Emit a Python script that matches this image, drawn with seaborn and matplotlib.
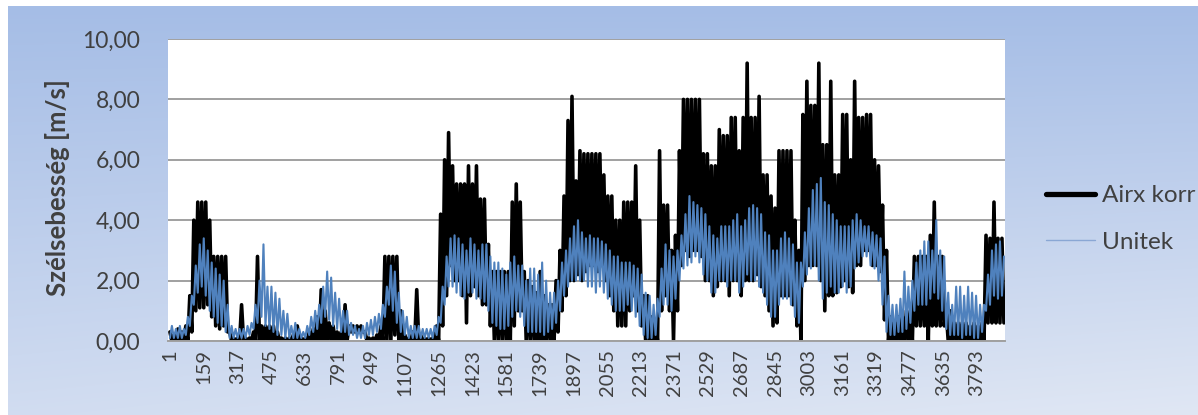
import numpy as np
import pandas as pd
import matplotlib
matplotlib.use("Agg")
import matplotlib.pyplot as plt
import seaborn as sns
from matplotlib.lines import Line2D

# ---- data: local highs and lows of each series ----
airx_high = [
    0.3, 0.2, 0.4, 0.3, 0.5, 1.5, 4.0, 4.6, 4.6, 4.6,
    4.0, 2.8, 2.8, 2.8, 2.8, 0.3, 0.1, 0.1, 1.2, 0.1,
    0.1, 0.3, 2.8, 0.5, 0.5, 0.5, 0.5, 0.3, 0.1, 0.1,
    0.1, 0.2, 0.5, 0.1, 0.1, 0.3, 0.4, 0.8, 1.7, 1.0,
    0.6, 0.5, 0.3, 0.3, 1.2, 0.5, 0.5, 0.5, 0.5, 0.3,
    0.1, 0.1, 0.2, 0.5, 2.8, 2.8, 2.8, 2.8, 1.0, 0.2,
    0.1, 0.3, 1.7, 0.2, 0.1, 0.1, 0.1, 0.5, 4.2, 6.0,
    6.9, 5.8, 5.2, 5.2, 5.2, 5.8, 5.2, 5.8, 4.7, 4.7,
    3.2, 2.3, 2.3, 2.3, 2.3, 2.3, 4.6, 5.2, 4.6, 2.3,
    2.0, 1.8, 1.6, 2.3, 1.5, 1.2, 1.2, 2.0, 3.0, 4.8,
    7.3, 8.1, 5.3, 6.3, 6.2, 6.2, 6.2, 6.2, 6.2, 5.5,
    4.8, 4.8, 4.0, 4.0, 4.6, 4.6, 4.6, 5.8, 4.0, 1.5,
    1.5, 0.8, 0.5, 6.3, 4.5, 4.5, 3.0, 3.5, 6.3, 8.0,
    8.0, 8.0, 8.0, 8.0, 6.2, 6.2, 5.8, 5.8, 7.0, 6.8,
    6.8, 7.4, 7.4, 6.3, 7.4, 9.2, 7.4, 7.4, 8.1, 5.5,
    5.5, 4.8, 4.4, 6.3, 6.3, 6.3, 6.3, 4.0, 3.0, 7.5,
    8.6, 7.8, 7.8, 9.2, 6.5, 6.5, 8.6, 5.5, 5.5, 7.5,
    7.5, 6.0, 8.6, 7.4, 7.4, 7.5, 7.5, 6.0, 5.8, 4.5,
    3.0, 0.8, 0.6, 0.8, 0.8, 1.0, 1.0, 2.8, 2.8, 2.8,
    2.8, 3.5, 4.6, 2.8, 2.8, 1.0, 1.0, 0.6, 0.6, 0.6,
    0.6, 0.5, 0.6, 0.5, 0.6, 3.5, 3.4, 4.6, 3.4, 3.4,
]
airx_low = [
    0.0, 0.0, 0.0, 0.0, 0.0, 0.3, 1.0, 1.1, 1.1, 1.2,
    0.8, 0.5, 0.4, 0.5, 0.3, 0.0, 0.0, 0.0, 0.0, 0.0,
    0.0, 0.0, 0.0, 0.0, 0.0, 0.0, 0.0, 0.0, 0.0, 0.0,
    0.0, 0.0, 0.0, 0.0, 0.0, 0.0, 0.0, 0.0, 0.0, 0.0,
    0.0, 0.0, 0.0, 0.0, 0.0, 0.3, 0.3, 0.3, 0.3, 0.0,
    0.0, 0.0, 0.0, 0.0, 0.0, 0.0, 0.2, 0.0, 0.0, 0.0,
    0.0, 0.0, 0.0, 0.0, 0.0, 0.0, 0.0, 0.0, 0.5, 1.5,
    2.5, 2.0, 2.0, 1.5, 0.6, 1.5, 1.8, 1.5, 1.2, 1.2,
    0.5, 0.0, 0.0, 0.0, 0.0, 0.0, 0.5, 1.0, 1.0, 0.0,
    0.0, 0.0, 0.0, 0.0, 0.0, 0.0, 0.0, 0.3, 1.0, 1.5,
    2.0, 2.0, 2.2, 2.0, 2.3, 2.5, 2.5, 2.3, 2.5, 2.0,
    1.5, 1.0, 0.5, 0.5, 0.5, 1.0, 1.5, 1.0, 0.5, 0.0,
    0.0, 0.0, 0.0, 1.0, 1.5, 1.0, 0.0, 1.0, 2.5, 3.0,
    2.8, 3.0, 3.0, 2.8, 2.0, 2.0, 1.5, 1.8, 2.0, 2.0,
    1.5, 2.0, 2.0, 1.5, 2.0, 2.0, 2.0, 2.2, 1.8, 1.5,
    1.0, 0.5, 0.6, 1.5, 1.5, 1.5, 1.2, 0.5, 0.0, 2.0,
    2.5, 2.5, 2.5, 2.0, 1.0, 1.5, 1.5, 1.6, 1.8, 2.0,
    1.8, 1.6, 2.5, 2.5, 3.0, 3.0, 2.5, 2.5, 2.3, 0.7,
    0.0, 0.0, 0.0, 0.0, 0.0, 0.0, 0.0, 0.5, 0.5, 0.5,
    0.0, 0.5, 0.5, 0.5, 0.5, 0.0, 0.0, 0.0, 0.0, 0.0,
    0.0, 0.0, 0.0, 0.0, 0.0, 0.6, 0.6, 0.6, 0.6, 0.6,
]
unitek_high = [
    0.5, 0.4, 0.5, 0.4, 0.8, 1.5, 2.5, 3.2, 3.4, 3.0,
    2.6, 2.4, 2.2, 2.0, 1.2, 0.5, 0.4, 0.4, 0.4, 0.5,
    0.6, 1.2, 2.0, 3.2, 1.8, 1.8, 1.6, 1.4, 1.0, 0.9,
    0.5, 0.6, 0.4, 0.3, 0.5, 0.8, 1.0, 1.2, 1.8, 2.3,
    2.1, 1.6, 1.4, 1.0, 1.0, 0.6, 0.5, 0.4, 0.5, 0.6,
    0.7, 0.8, 0.9, 1.2, 1.8, 2.5, 2.3, 1.6, 1.0, 0.8,
    0.5, 0.5, 0.5, 0.4, 0.4, 0.4, 0.5, 0.8, 1.8, 2.8,
    3.4, 3.5, 3.4, 3.2, 3.0, 3.4, 3.2, 3.0, 3.2, 3.2,
    2.8, 2.6, 2.6, 2.4, 2.2, 2.6, 2.8, 2.5, 2.5, 2.0,
    2.4, 2.4, 2.2, 2.6, 2.0, 1.6, 1.6, 2.0, 2.6, 3.0,
    3.4, 3.8, 4.0, 3.6, 3.4, 3.5, 3.4, 3.4, 3.3, 3.2,
    3.0, 2.8, 2.8, 2.6, 2.6, 2.6, 2.5, 2.4, 2.2, 1.6,
    1.5, 1.2, 1.4, 2.4, 3.2, 3.0, 2.8, 3.0, 3.5, 4.2,
    4.8, 4.6, 4.5, 4.4, 4.2, 3.8, 3.5, 3.4, 3.8, 3.8,
    3.8, 4.0, 4.2, 3.8, 4.0, 4.4, 4.5, 4.4, 4.2, 3.6,
    3.5, 3.0, 3.0, 3.4, 3.6, 3.4, 3.2, 2.6, 2.6, 3.6,
    4.4, 5.0, 5.2, 5.4, 4.6, 4.5, 4.2, 4.0, 3.8, 3.8,
    3.8, 4.0, 4.2, 4.0, 3.8, 3.8, 3.6, 3.5, 3.4, 2.8,
    1.5, 1.2, 1.2, 1.4, 2.3, 1.8, 2.0, 2.6, 3.0, 3.3,
    3.3, 3.0, 4.0, 3.0, 2.8, 1.6, 1.2, 1.8, 1.8, 1.5,
    1.8, 1.6, 1.5, 1.2, 1.2, 2.2, 3.0, 3.2, 3.3, 2.8,
]
unitek_low = [
    0.1, 0.1, 0.1, 0.1, 0.2, 0.5, 1.2, 1.6, 1.8, 1.5,
    1.0, 0.8, 0.6, 0.5, 0.3, 0.1, 0.1, 0.1, 0.1, 0.1,
    0.2, 0.4, 0.6, 0.8, 0.5, 0.4, 0.3, 0.2, 0.2, 0.1,
    0.1, 0.1, 0.1, 0.1, 0.1, 0.2, 0.3, 0.4, 0.6, 0.8,
    0.7, 0.5, 0.4, 0.3, 0.3, 0.2, 0.2, 0.1, 0.1, 0.1,
    0.2, 0.2, 0.3, 0.4, 0.8, 1.2, 1.0, 0.6, 0.3, 0.2,
    0.1, 0.1, 0.1, 0.1, 0.1, 0.1, 0.1, 0.2, 0.6, 1.2,
    1.8, 1.8, 1.6, 1.5, 1.4, 1.6, 1.6, 1.4, 1.4, 1.3,
    1.0, 0.6, 0.5, 0.4, 0.4, 0.5, 0.8, 1.0, 0.8, 0.5,
    0.3, 0.3, 0.3, 0.3, 0.2, 0.3, 0.4, 0.6, 1.0, 1.5,
    1.8, 2.0, 2.0, 2.0, 2.0, 1.8, 1.8, 1.6, 1.8, 1.6,
    1.4, 1.2, 1.0, 1.0, 1.0, 1.2, 1.0, 0.8, 0.5, 0.2,
    0.1, 0.1, 0.2, 0.8, 1.2, 1.2, 1.0, 1.4, 2.0, 2.4,
    2.5, 2.6, 2.8, 2.6, 2.2, 2.0, 1.6, 1.6, 2.0, 2.0,
    1.8, 2.0, 2.0, 1.6, 1.8, 2.2, 2.0, 2.0, 1.8, 1.6,
    1.2, 0.8, 0.8, 1.2, 1.4, 1.4, 1.2, 0.8, 0.6, 1.8,
    2.2, 2.4, 2.5, 2.0, 1.4, 1.6, 1.8, 1.6, 1.6, 1.8,
    1.6, 1.8, 2.4, 2.6, 2.8, 2.8, 2.5, 2.4, 2.0, 1.2,
    0.3, 0.2, 0.2, 0.3, 0.3, 0.4, 0.6, 1.0, 1.2, 1.2,
    1.2, 1.4, 1.6, 1.4, 1.0, 0.4, 0.2, 0.2, 0.2, 0.1,
    0.2, 0.2, 0.1, 0.1, 0.3, 1.0, 1.2, 1.5, 1.4, 1.5,
]
tick_positions = [1, 159, 317, 475, 633, 791, 949, 1107, 1265, 1423, 1581,
                  1739, 1897, 2055, 2213, 2371, 2529, 2687, 2845, 3003, 3161,
                  3319, 3477, 3635, 3793]
tick_labels = [str(t) for t in tick_positions]
y_ticks = [0, 2, 4, 6, 8, 10]
y_tick_labels = ["0,00", "2,00", "4,00", "6,00", "8,00", "10,00"]
first_meres, last_meres = 1, 3920

# the series swing between their highs and lows from one reading to the next
airx_korr = np.column_stack([airx_high, airx_low]).ravel()
unitek = np.column_stack([unitek_low, unitek_high]).ravel()
meres = np.linspace(first_meres, last_meres, len(airx_korr))
df = pd.DataFrame({"meres": meres, "Airx korr": airx_korr, "Unitek": unitek})

sns.set_theme(style="white")
plt.rcParams['font.family'] = ['Lato', 'DejaVu Sans']

W, H = 1198, 415
fig = plt.figure(figsize=(W / 100, H / 100), dpi=100)
fig.patch.set_facecolor("white")

# gradient background
bg = fig.add_axes([8 / W, 0, 1 - 8 / W, 1 - 6 / H], zorder=-10)
yy = np.linspace(0, 1, 200)[:, None]
xx = np.linspace(0, 1, 300)[None, :]
top = np.array([165, 189, 230]) / 255
bot = np.array([224, 231, 244]) / 255
t = np.clip(yy * (0.75 + 0.25 * xx), 0, 1)
img = top * (1 - t[..., None]) + bot * t[..., None]
bg.imshow(img, aspect="auto", interpolation="bilinear")
bg.axis("off")

ax = fig.add_axes([168 / W, 74 / H, 837 / W, 302 / H])
ax.set_facecolor("white")

sns.lineplot(data=df, x="meres", y="Airx korr", ax=ax, color="black",
             lw=2.6, estimator=None, sort=False, label="Airx korr")
sns.lineplot(data=df, x="meres", y="Unitek", ax=ax, color="#4f81bd",
             lw=1.5, estimator=None, sort=False, label="Unitek")
ax.get_legend().remove()

ax.set_xlim(-8, 3925)
ax.set_ylim(0, 10)
ax.set_yticks(y_ticks)
ax.set_yticklabels(y_tick_labels)
ax.set_xticks(tick_positions)
ax.set_xticklabels(tick_labels, rotation=90)
ax.tick_params(axis="y", length=0, pad=20, labelsize=16.5, labelcolor="#404040")
ax.tick_params(axis="x", length=0, pad=6, labelsize=14.5, labelcolor="#404040")
ax.set_xlabel("")
ax.set_ylabel("")
ax.yaxis.grid(True, color="#a0a0a0", lw=1.4)
ax.xaxis.grid(False)
ax.set_axisbelow(True)
for s in ["top", "right", "left"]:
    ax.spines[s].set_visible(False)
ax.spines["bottom"].set_color("#a0a0a0")
ax.spines["bottom"].set_linewidth(1.4)

fig.text(58 / W, 1 - 188 / H, "Szélsebesség [m/s]", rotation=90,
         ha="center", va="center", fontsize=18.5, fontweight="bold",
         color="#404040")

handles = [Line2D([], [], color="black", lw=3.8),
           Line2D([], [], color="#8aa7d4", lw=1.0)]
fig.legend(handles, ["Airx korr", "Unitek"], loc="center left",
           bbox_to_anchor=(1046 / W, 1 - 219 / H), frameon=False,
           fontsize=17.5, handlelength=2.0, handletextpad=0.3,
           labelspacing=1.05, borderpad=0, borderaxespad=0,
           labelcolor="#404040")

fig.savefig("out.png", dpi=100)
